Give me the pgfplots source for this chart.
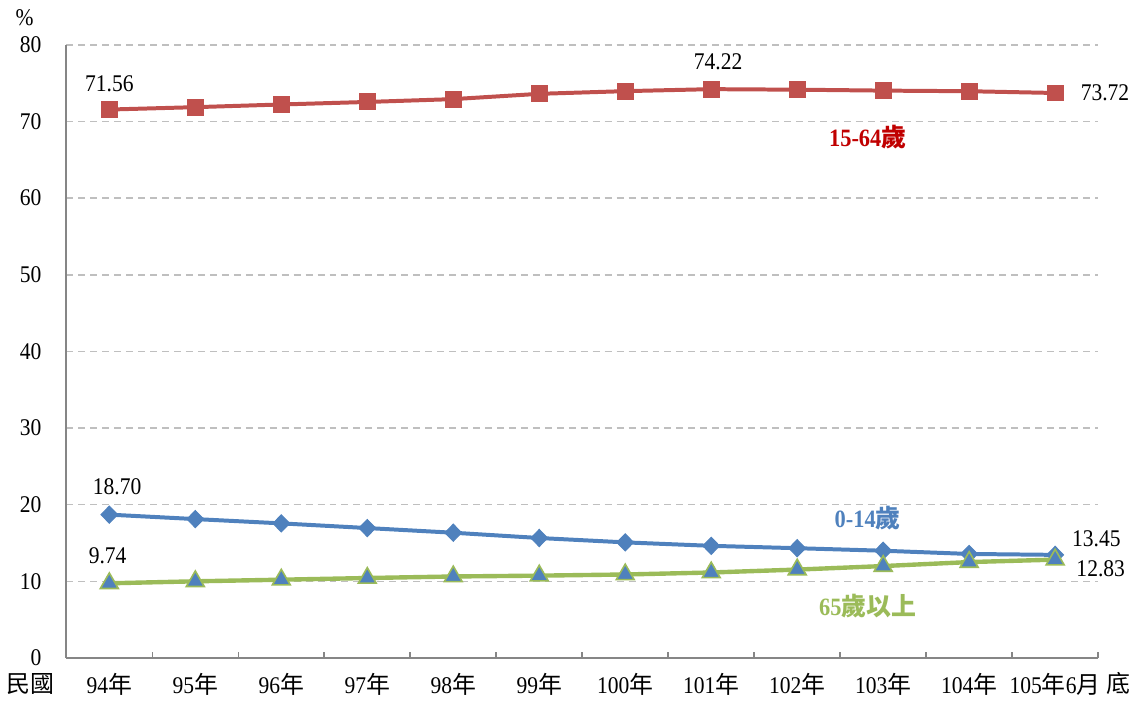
\documentclass[border=0pt]{standalone}
\usepackage{fontspec}
\setmainfont{Liberation Serif}[FakeStretch=0.9]
\newfontfamily\cjk{Noto Sans CJK TC}
\usepackage{pgfplots}
\pgfplotsset{compat=1.18}
\definecolor{cred}{HTML}{C0504D}
\definecolor{cdred}{HTML}{C00000}
\definecolor{cblue}{HTML}{4F81BD}
\definecolor{cgreen}{HTML}{9BBB59}
\definecolor{axgray}{HTML}{868686}
\definecolor{gridgray}{HTML}{BFBFBF}
\begin{document}
\begin{tikzpicture}
\begin{axis}[name=ax, scale only axis, width=517.5pt, height=307.5pt,
  xmin=-0.5, xmax=11.5, ymin=0, ymax=80,
  clip=false,
  axis x line*=bottom, axis y line*=left,
  axis line style={draw=axgray, line width=0.9pt, -},
  xtick={0,...,11},
  xticklabels={94{\cjk 年},95{\cjk 年},96{\cjk 年},97{\cjk 年},98{\cjk 年},99{\cjk 年},100{\cjk 年},101{\cjk 年},102{\cjk 年},103{\cjk 年},104{\cjk 年},105{\cjk 年}6{\cjk 月}},
  minor xtick={0.5,1.5,...,11.5},
  major x tick style={draw=none},
  minor x tick style={draw=axgray, line width=0.8pt},
  minor tick length=3pt,
  tick align=inside,
  ytick={0,10,...,80},
  y tick style={draw=none},
  ymajorgrids,
  major grid style={draw=gridgray, line width=0.8pt, dash pattern=on 3.5pt off 2.5pt},
  /pgf/number format/assume math mode=true,
  ticklabel style={font=\fontsize{12}{14}\selectfont},
  yticklabel style={xshift=-9pt},
  xticklabel style={yshift=-4pt},
]
\addplot[cred, line width=2pt, mark=square*, mark size=4pt, mark options={fill=cred, draw=cred, line width=0.5pt}] coordinates {
(0,71.56) (1,71.87) (2,72.22) (3,72.55) (4,72.92) (5,73.61) (6,73.96) (7,74.22) (8,74.15) (9,74.03) (10,73.95) (11,73.72)};
\addplot[cblue, line width=2pt, mark=diamond*, mark size=4.3pt, mark options={fill=cblue, draw=cblue, line width=0.5pt, xscale=1.3}] coordinates {
(0,18.70) (1,18.12) (2,17.56) (3,16.95) (4,16.34) (5,15.65) (6,15.08) (7,14.63) (8,14.32) (9,13.99) (10,13.57) (11,13.45)};
\addplot[cgreen, line width=2.2pt, mark=triangle*, mark size=5.2pt, mark options={fill=cblue, draw=cgreen, line width=0.8pt}] coordinates {
(0,9.74) (1,10.00) (2,10.21) (3,10.43) (4,10.63) (5,10.74) (6,10.89) (7,11.15) (8,11.53) (9,11.99) (10,12.51) (11,12.83)};
\begin{scope}[every node/.style={font=\fontsize{12}{14}\selectfont, text=black}]
\node at (axis cs:0,74.9) {71.56};
\node at (axis cs:7.08,77.8) {74.22};
\node at (axis cs:11.58,73.76) {73.72};
\node at (axis cs:0.09,22.37) {18.70};
\node at (axis cs:-0.02,13.4) {9.74};
\node at (axis cs:11.48,15.6) {13.45};
\node at (axis cs:11.53,11.58) {12.83};
\node at (axis cs:-0.985,83.6) {\%};
\node at (axis cs:-0.916,-3.38) {\cjk 民國};
\node at (axis cs:11.74,-3.38) {\cjk 底};
\end{scope}
\begin{scope}[every node/.style={font=\fontsize{12.5}{14}\selectfont\bfseries}]
\node[text=cdred] at (axis cs:8.82,68.0) {15-64{\cjk\bfseries 歲}};
\node[text=cblue] at (axis cs:8.82,18.2) {0-14{\cjk\bfseries 歲}};
\node[text=cgreen] at (axis cs:8.82,6.76) {65{\cjk\bfseries 歲以上}};
\end{scope}
\end{axis}
\path ([shift={(-31.5pt,-21pt)}]ax.south west) rectangle ([shift={(20pt,22.5pt)}]ax.north east);
\end{tikzpicture}
\end{document}
